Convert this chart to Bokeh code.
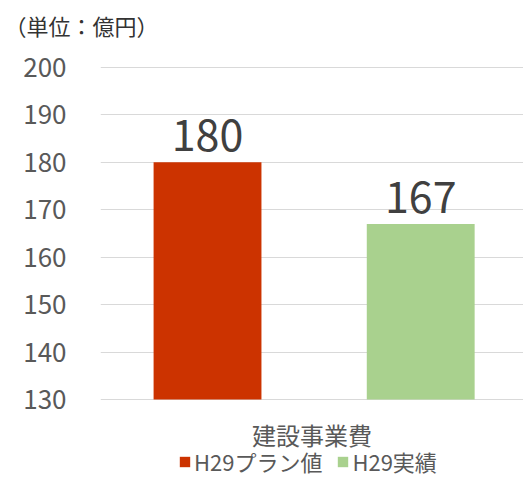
from bokeh.plotting import figure
from bokeh.models import (FactorRange, Range1d, ColumnDataSource, Legend, LegendItem,
                          FixedTicker)
from bokeh.transform import dodge
from bokeh.core.properties import value
from bokeh.embed import file_html
from bokeh.resources import INLINE

category = ["建設事業費"]
series = ["H29プラン値", "H29実績"]
values = [180, 167]
colors = ["#CC3300", "#A9D18E"]
yticks = [130, 140, 150, 160, 170, 180, 190, 200]
unit_label = "（単位：億円）"

FONT = "Noto Sans CJK JP"
base = yticks[0]

p = figure(width=523, height=477, x_range=FactorRange(factors=category),
           y_range=Range1d(113.56, 204.64), output_backend="svg", toolbar_location=None,
           min_border_left=100, min_border_right=0, min_border_top=45, min_border_bottom=0,
           title=unit_label)
p.outline_line_color = None
p.title.align = "left"
p.title.offset = -96
p.title.text_font = FONT
p.title.text_font_size = "22px"
p.title.text_font_style = "normal"
p.title.text_color = "#333333"

offsets = [-0.247, 0.257]
renderers = []
for name, v, c, off in zip(series, values, colors, offsets):
    src = ColumnDataSource(dict(x=category, top=[v], lab=[str(v)]))
    r = p.vbar(x=dodge("x", off, range=p.x_range), top="top", bottom=base, width=0.255,
               source=src, fill_color=c, line_color=None)
    renderers.append((name, r))
    p.text(x=dodge("x", off, range=p.x_range), y="top", text="lab", source=src,
           text_align="center", text_baseline="bottom", y_offset=-11,
           text_font=value(FONT), text_font_size="43px", text_color="#404040")

# category label under the baseline
p.text(x=category, y=[base], text=category, text_align="center", text_baseline="middle",
       y_offset=35, text_font=value(FONT), text_font_size="24px", text_color="#595959")

ticker = FixedTicker(ticks=yticks)
p.yaxis.ticker = ticker
p.ygrid.ticker = ticker
p.yaxis.axis_line_color = None
p.yaxis.major_tick_line_color = None
p.yaxis.minor_tick_line_color = None
p.yaxis.major_label_text_font = FONT
p.yaxis.major_label_text_font_size = "26px"
p.yaxis.major_label_text_color = "#595959"
p.yaxis.major_label_standoff = 28

p.xaxis.visible = False
p.xgrid.grid_line_color = None
p.ygrid.grid_line_color = "#D9D9D9"
p.ygrid.grid_line_width = 1

legend = Legend(items=[LegendItem(label=n, renderers=[r]) for n, r in renderers],
                orientation="horizontal", location=(78, 0),
                label_text_font=FONT, label_text_font_size="22px", label_text_color="#595959",
                glyph_width=13, glyph_height=13, label_standoff=3, spacing=14,
                border_line_color=None, padding=0, margin=0, background_fill_alpha=0)
p.add_layout(legend)

open("out.html", "w").write(file_html(p, INLINE))
